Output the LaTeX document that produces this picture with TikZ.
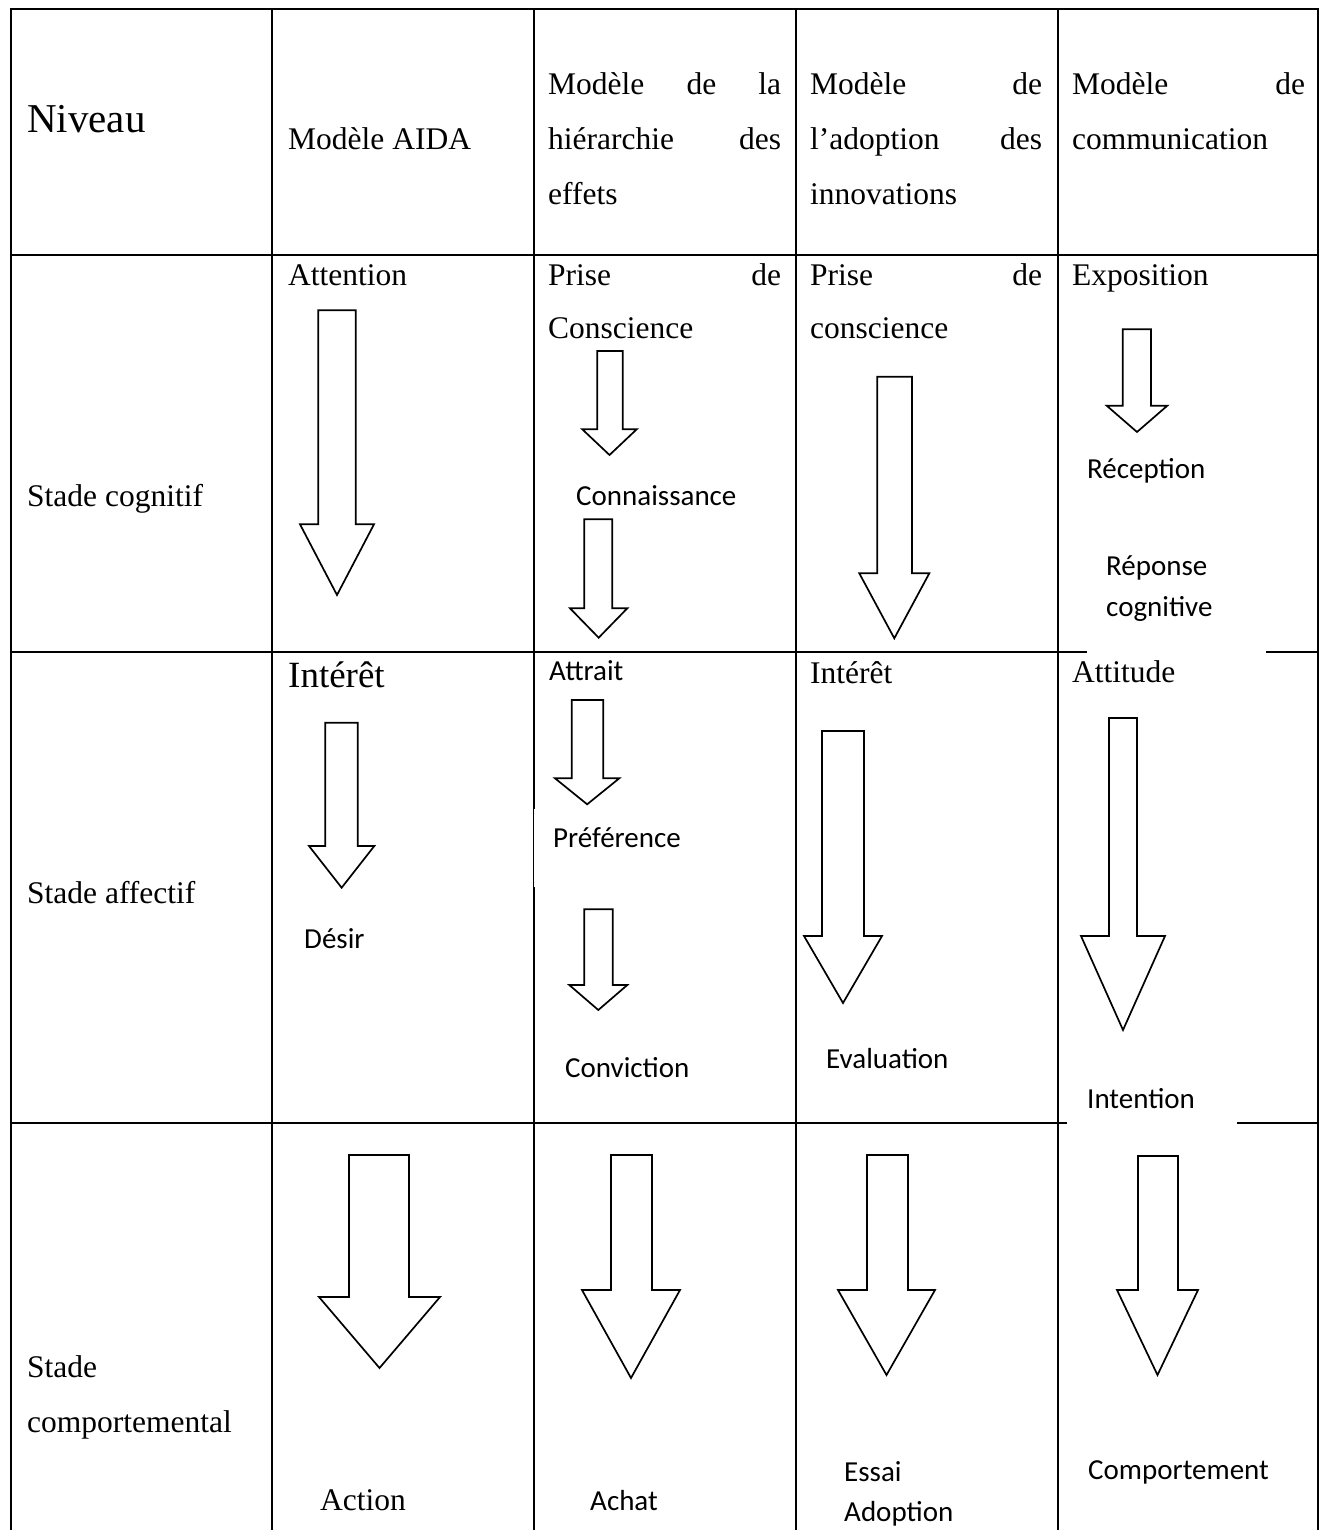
\documentclass[tikz,border=0pt]{standalone}
\usepackage{fontspec}
\setmainfont{Liberation Serif}
\newfontfamily\calibrifont{Carlito}
% block arrow pointing down: shaft left/right, top, head left/right, head base, tip
\newcommand\blkarrow[7]{%
  \draw[blockarrow] (#1,#3) -- (#1,#6) -- (#4,#6) -- ({(#4+#5)/2},#7)
    -- (#5,#6) -- (#2,#6) -- (#2,#3) -- cycle;}
\begin{document}
\begin{tikzpicture}[x=1pt,y=-1pt,
  grid/.style={line width=2.6pt, line cap=rect},
  blockarrow/.style={draw, line width=1.7pt, line join=miter, fill=white},
  tnr/.style={anchor=base west, inner sep=0pt, font=\fontsize{31.5}{38}\selectfont},
  cal/.style={anchor=base west, inner sep=0pt, font=\calibrifont\fontsize{29}{35}\selectfont},
]
\useasboundingbox (0,0) rectangle (1324,1530);

% ---- table rules ----
\draw[grid] (11,9) -- (1318,9);
\foreach \x in {11,272,796,1058,1318} \draw[grid] (\x,9) -- (\x,1540);
\draw[grid] (534,9) -- (534,808);
\draw[grid] (534,888) -- (534,1540);
\draw[line width=1.3pt] (533.3,808) -- (533.3,888);
\draw[grid] (11,255) -- (1318,255);
\draw[grid] (11,652) -- (1086,652);
\draw[grid] (1267,652) -- (1318,652);
\draw[grid] (11,1123) -- (1066,1123);
\draw[grid] (1238,1123) -- (1318,1123);

% ---- header row ----
\node[tnr, font=\fontsize{41}{48}\selectfont] (niveau) at (27,133) {Niveau};
\node[tnr] (aida) at (288,150) {Modèle AIDA};
\node[tnr] (hierA) at (548,95) {\hbox to 233pt{Modèle\hfill de\hfill la}};
\node[tnr] (hierB) at (548,150) {\hbox to 233pt{hiérarchie\hfill des}};
\node[tnr] (hierC) at (548,205) {effets};
\node[tnr] (adopA) at (810,95) {\hbox to 232pt{Modèle\hfill de}};
\node[tnr] (adopB) at (810,150) {\hbox to 232pt{l’adoption\hfill des}};
\node[tnr] (adopC) at (810,205) {innovations};
\node[tnr] (commA) at (1072,95) {\hbox to 233pt{Modèle\hfill de}};
\node[tnr] (commB) at (1072,150) {communication};

% ---- cognitive stage ----
\node[tnr] (cog) at (27,506) {Stade cognitif};
\node[tnr] (attention) at (288,285) {Attention};
\node[tnr] (priseA) at (548,285) {\hbox to 233pt{Prise\hfill de}};
\node[tnr] (priseB) at (548,338) {Conscience};
\node[tnr] (priseC) at (810,285) {\hbox to 232pt{Prise\hfill de}};
\node[tnr] (priseD) at (810,338) {conscience};
\node[tnr] (expo) at (1072,285) {Exposition};
\node[cal] (connais) at (576,505) {Connaissance};
\node[cal] (recep) at (1087,478) {Réception};
\node[cal] (repA) at (1106,575) {Réponse};
\node[cal] (repB) at (1106,616) {cognitive};

\blkarrow{318.3}{355.7}{310.3}{300}{374}{524.3}{595}
\blkarrow{597.3}{622.7}{351}{582.3}{636.7}{429.3}{455}
\blkarrow{584.3}{612.3}{519.3}{570}{627.3}{608.3}{637.7}
\blkarrow{877.3}{912}{376.7}{859.3}{929.3}{573.3}{638.3}
\blkarrow{1122.7}{1151}{329.3}{1106.7}{1167.3}{405.7}{432}

% ---- affective stage ----
\node[tnr] (aff) at (27,903) {Stade affectif};
\node[tnr, font=\fontsize{37}{44}\selectfont] (interetA) at (288,687) {Intérêt};
\node[cal] (attrait) at (549,680) {Attrait};
\node[tnr] (interetB) at (810,683) {Intérêt};
\node[tnr] (attitude) at (1072,682) {Attitude};
\node[cal] (desir) at (304,948) {Désir};
\node[cal] (pref) at (553,847) {Préférence};
\node[cal] (convic) at (565,1077) {Conviction};
\node[cal] (evalu) at (826,1068) {Evaluation};
\node[cal] (intent) at (1087,1108) {Intention};

\blkarrow{325.3}{357.7}{722.7}{309}{374.3}{846}{887.7}
\blkarrow{571.7}{603.3}{700}{555}{619.3}{778.3}{804.3}
\blkarrow{584.3}{612.7}{909.3}{569.3}{627.3}{985}{1010}
\blkarrow{822}{864}{731}{804}{882}{936}{1003}
\blkarrow{1109}{1137}{718}{1081}{1165}{936}{1030}

% ---- behavioural stage ----
\node[tnr] (compA) at (27,1377) {Stade};
\node[tnr] (compB) at (27,1432) {comportemental};
\node[tnr] (action) at (320,1510) {Action};
\node[cal] (achat) at (590,1510) {Achat};
\node[cal] (essai) at (844,1481) {Essai};
\node[cal] (adoption) at (844,1521) {Adoption};
\node[cal] (comport) at (1088,1479) {Comportement};

\blkarrow{349}{409}{1155}{319}{440}{1297}{1368}
\blkarrow{611}{652}{1155}{582}{680}{1290}{1378}
\blkarrow{867}{908}{1155}{838}{935}{1290}{1375}
\blkarrow{1138}{1178}{1156}{1117}{1198}{1290}{1375}
\end{tikzpicture}
\end{document}
